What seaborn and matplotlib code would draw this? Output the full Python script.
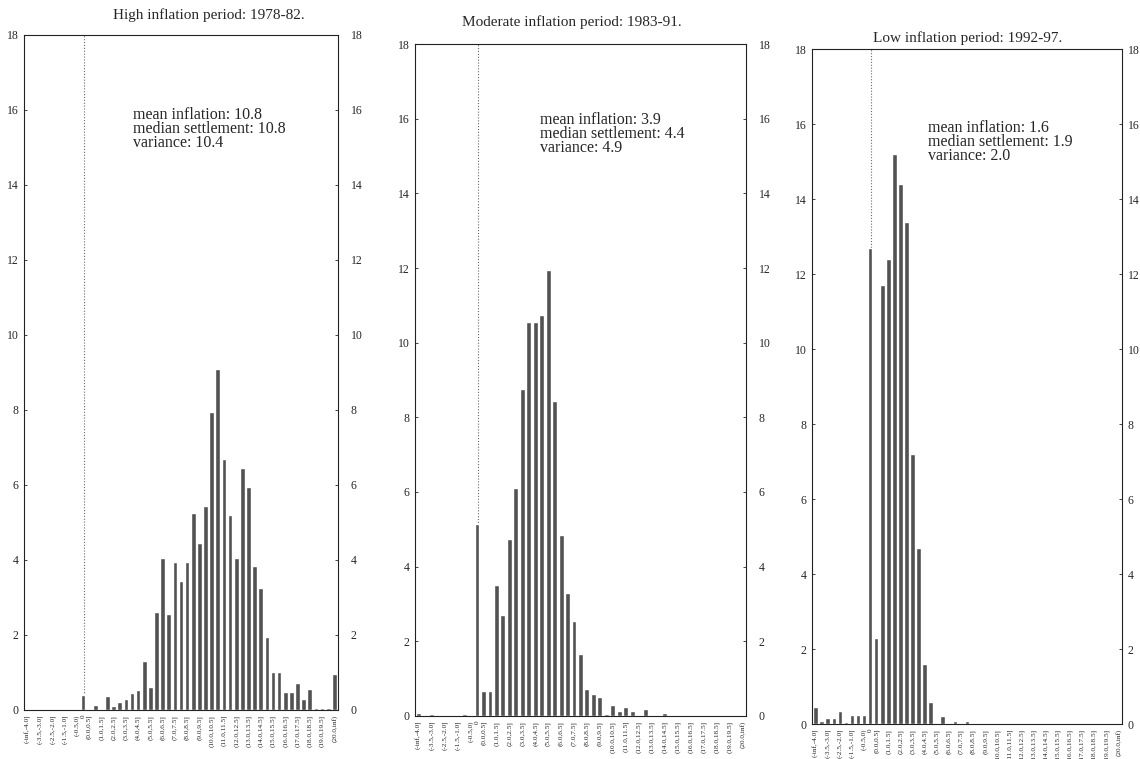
import matplotlib
matplotlib.use("Agg")
import matplotlib.pyplot as plt
import seaborn as sns
import pandas as pd

# Wage-settlement bins (percent), half-point wide, with open-ended tails
bins = [
    "(-inf,-4.0]", "(-4.0,-3.5]", "(-3.5,-3.0]", "(-3.0,-2.5]", "(-2.5,-2.0]",
    "(-2.0,-1.5]", "(-1.5,-1.0]", "(-1.0,-0.5]", "(-0.5,0)", "0",
    "(0.0,0.5]", "(0.5,1.0]", "(1.0,1.5]", "(1.5,2.0]", "(2.0,2.5]",
    "(2.5,3.0]", "(3.0,3.5]", "(3.5,4.0]", "(4.0,4.5]", "(4.5,5.0]",
    "(5.0,5.5]", "(5.5,6.0]", "(6.0,6.5]", "(6.5,7.0]", "(7.0,7.5]",
    "(7.5,8.0]", "(8.0,8.5]", "(8.5,9.0]", "(9.0,9.5]", "(9.5,10.0]",
    "(10.0,10.5]", "(10.5,11.0]", "(11.0,11.5]", "(11.5,12.0]", "(12.0,12.5]",
    "(12.5,13.0]", "(13.0,13.5]", "(13.5,14.0]", "(14.0,14.5]", "(14.5,15.0]",
    "(15.0,15.5]", "(15.5,16.0]", "(16.0,16.5]", "(16.5,17.0]", "(17.0,17.5]",
    "(17.5,18.0]", "(18.0,18.5]", "(18.5,19.0]", "(19.0,19.5]", "(19.5,20.0]",
    "(20.0,inf)",
]

# Share of settlements in each bin (%)
high_1978_82 = [
    0, 0, 0, 0, 0, 0, 0, 0, 0, 0.4,
    0, 0.13, 0, 0.38, 0.1, 0.22, 0.3, 0.45, 0.52, 1.3,
    0.6, 2.6, 4.05, 2.55, 3.95, 3.45, 3.95, 5.25, 4.45, 5.45,
    7.95, 9.1, 6.7, 5.2, 4.05, 6.45, 5.95, 3.85, 3.25, 1.95,
    1.0, 1.0, 0.48, 0.48, 0.72, 0.3, 0.55, 0.05, 0.05, 0.05,
    0.95,
]
moderate_1983_91 = [
    0.08, 0, 0.04, 0, 0, 0, 0, 0.05, 0, 5.15,
    0.68, 0.68, 3.5, 2.7, 4.75, 6.1, 8.75, 10.55, 10.55, 10.75,
    11.95, 8.45, 4.85, 3.3, 2.55, 1.65, 0.73, 0.6, 0.51, 0.04,
    0.3, 0.13, 0.24, 0.13, 0.02, 0.18, 0, 0.03, 0.08, 0,
    0.02, 0, 0, 0, 0.03, 0, 0, 0, 0, 0,
    0,
]
low_1992_97 = [
    0.45, 0.07, 0.15, 0.15, 0.36, 0.05, 0.24, 0.24, 0.24, 12.7,
    2.3, 11.7, 12.4, 15.2, 14.4, 13.4, 7.2, 4.7, 1.6, 0.6,
    0.03, 0.22, 0, 0.08, 0, 0.08, 0, 0, 0, 0,
    0, 0, 0, 0, 0, 0, 0, 0, 0, 0,
    0, 0, 0, 0, 0, 0, 0, 0, 0, 0,
    0,
]

titles = [
    "High inflation period: 1978-82.",
    "Moderate inflation period: 1983-91.",
    "Low inflation period: 1992-97.",
]
mean_inflation = ["10.8", "3.9", "1.6"]
median_settlement = ["10.8", "4.4", "1.9"]
variance = ["10.4", "4.9", "2.0"]

sns.set_style("white")
plt.rcParams["font.family"] = ["Liberation Serif", "DejaVu Serif"]
plt.rcParams["axes.linewidth"] = 0.8

fig = plt.figure(figsize=(11.4, 7.59), dpi=100, facecolor="white")

# axes rectangles, title anchors and note anchors in figure fractions
boxes = [
    (0.0211, 0.0646, 0.2754, 0.8893),
    (0.3640, 0.0567, 0.2904, 0.8853),
    (0.7123, 0.0460, 0.2719, 0.8890),
]
title_pos = [(0.183, 0.980), (0.502, 0.971), (0.849, 0.950)]
note_pos = [(0.1167, 0.859), (0.4737, 0.853), (0.8140, 0.842)]
right_pad = [9, 9, 4]

series = [high_1978_82, moderate_1983_91, low_1992_97]
shown = [i for i in range(len(bins)) if i % 2 == 0 or bins[i] == "0"]
zero_pos = bins.index("0")
yticks = list(range(0, 19, 2))

for k, values in enumerate(series):
    ax = fig.add_axes(boxes[k])
    ax.set_facecolor("white")
    df = pd.DataFrame({"bin": bins, "share": values})
    ax.axvline(zero_pos + 0.2, color="#6a6a6a", lw=0.8,
               linestyle=(0, (1, 1.6)), zorder=0)
    sns.barplot(data=df, x="bin", y="share", order=bins, color="#525252",
                saturation=1, width=0.76, ax=ax, zorder=2)
    ax.set_xlim(-0.6, len(bins) - 0.4)
    ax.set_ylim(0, 18)
    ax.set_yticks(yticks)
    ax.set_xticks(range(len(bins)))
    ax.set_xticklabels([b if i in shown else "" for i, b in enumerate(bins)],
                       rotation=90, fontsize=5.2)
    ax.tick_params(axis="x", length=2, width=0.5, pad=1.5, direction="out")
    ax.tick_params(axis="y", labelsize=8.5, length=2.5, width=0.6,
                   direction="in", left=True, right=False, pad=4)
    ax.set_xlabel("")
    ax.set_ylabel("")
    for s in ax.spines.values():
        s.set_visible(True)
        s.set_color("#222222")
        s.set_linewidth(0.8)

    # matching scale on the right-hand side
    rax = ax.twinx()
    rax.set_ylim(0, 18)
    rax.set_yticks(yticks)
    rax.tick_params(axis="y", labelsize=8.5, length=2.5, width=0.6,
                    direction="in", pad=right_pad[k])
    rax.grid(False)
    for s in rax.spines.values():
        s.set_visible(False)

    fig.text(title_pos[k][0], title_pos[k][1], titles[k], ha="center",
             va="center", fontsize=11)
    fig.text(note_pos[k][0], note_pos[k][1],
             f"mean inflation: {mean_inflation[k]}\n"
             f"median settlement: {median_settlement[k]}\n"
             f"variance: {variance[k]}",
             ha="left", va="top", fontsize=11.5, linespacing=0.85)

fig.savefig("out.png", dpi=100, facecolor="white")
